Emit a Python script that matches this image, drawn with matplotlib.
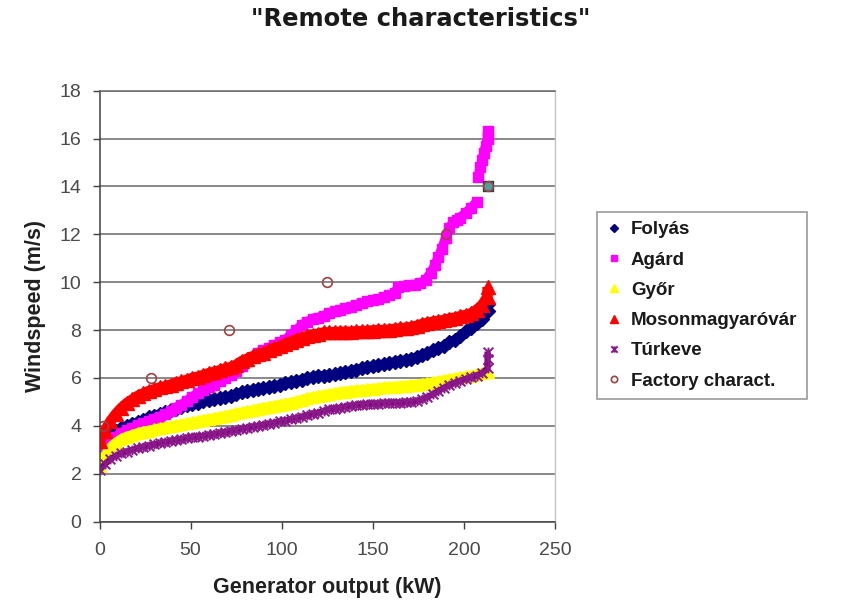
import matplotlib
matplotlib.use("Agg")
import matplotlib.pyplot as plt
from matplotlib.path import Path

plt.rcParams['font.family'] = ['Liberation Sans', 'DejaVu Sans']

# Generator output (kW) sample positions shared by most stations
grid_kw = [0, 3, 6, 9, 12, 15, 18, 21, 24, 27, 30, 33, 36, 39, 42, 45, 48, 51,
           54, 57, 60, 63, 66, 69, 72, 75, 78, 81, 84, 87, 90, 93, 96, 99, 102,
           105, 108, 111, 114, 117, 120, 123, 126, 129, 132, 135, 138, 141, 144,
           147, 150, 153, 156, 159, 162, 165, 168, 171, 174, 177, 180, 183, 186,
           189, 192, 195, 198, 201, 204, 207, 210, 213]

folyas_kw = grid_kw + [213]
folyas_ws = [3.0, 3.35, 3.6, 3.78, 3.9, 4.0, 4.08, 4.15, 4.25, 4.35,
             4.42, 4.5, 4.57, 4.65, 4.72, 4.78, 4.85, 4.92, 4.97, 5.02,
             5.06, 5.1, 5.15, 5.2, 5.25, 5.32, 5.4, 5.45, 5.5, 5.55,
             5.58, 5.62, 5.67, 5.72, 5.78, 5.83, 5.88, 5.93, 6.0, 6.05,
             6.08, 6.1, 6.12, 6.15, 6.2, 6.25, 6.3, 6.35, 6.4, 6.45,
             6.5, 6.54, 6.58, 6.62, 6.68, 6.72, 6.75, 6.8, 6.88, 6.95,
             7.05, 7.15, 7.25, 7.35, 7.5, 7.6, 7.75, 7.95, 8.1, 8.3,
             8.45, 8.8, 9.1]

agard_kw = [0, 3, 6, 9, 12, 15, 18, 21, 24, 27, 30, 33, 36, 39, 42, 45, 48, 51,
            54, 57, 60, 63, 66, 69, 72, 75, 78, 81, 84, 87, 90, 93, 96, 99, 102,
            105, 108, 111, 114, 117, 120, 123, 126, 129, 132, 135, 138, 141, 144,
            147, 150, 153, 156, 159, 162, 164, 167, 170, 173, 176, 179, 182, 184,
            186, 188, 190, 192, 194, 196, 198, 201, 204, 207, 208, 209, 210, 211,
            212, 213, 213]
agard_ws = [2.6, 3.05, 3.35, 3.55, 3.7, 3.82, 3.92, 4.02, 4.1, 4.2,
            4.3, 4.38, 4.48, 4.6, 4.75, 4.88, 5.05, 5.22, 5.35, 5.48,
            5.6, 5.72, 5.85, 5.98, 6.12, 6.3, 6.5, 6.7, 6.88, 7.02,
            7.15, 7.25, 7.38, 7.48, 7.6, 7.8, 8.0, 8.2, 8.35, 8.45,
            8.52, 8.6, 8.7, 8.78, 8.85, 8.9, 8.98, 9.05, 9.12, 9.2,
            9.25, 9.3, 9.38, 9.45, 9.55, 9.8, 9.85, 9.88, 9.9, 9.95,
            10.1, 10.4, 10.7, 11.05, 11.4, 11.85, 12.25, 12.5, 12.6, 12.7,
            12.9, 13.1, 13.35, 14.4, 14.8, 15.1, 15.4, 15.7, 16.0, 16.3]
# the top run of Agárd readings is separate from the rest of the band
agard_split = 73

gyor_kw = grid_kw
gyor_ws = [2.3, 2.75, 3.1, 3.3, 3.45, 3.55, 3.62, 3.7, 3.76, 3.8,
           3.85, 3.9, 3.94, 3.98, 4.02, 4.06, 4.1, 4.15, 4.19, 4.24,
           4.28, 4.32, 4.37, 4.42, 4.47, 4.52, 4.56, 4.6, 4.65, 4.7,
           4.75, 4.79, 4.84, 4.88, 4.92, 4.97, 5.02, 5.08, 5.15, 5.2,
           5.25, 5.28, 5.32, 5.36, 5.4, 5.43, 5.46, 5.48, 5.5, 5.52,
           5.55, 5.57, 5.6, 5.62, 5.64, 5.66, 5.68, 5.7, 5.72, 5.75,
           5.78, 5.82, 5.86, 5.9, 5.94, 5.98, 6.02, 6.06, 6.1, 6.15,
           6.2, 6.25]

moson_kw = grid_kw + [213]
moson_ws = [3.35, 3.8, 4.2, 4.5, 4.75, 4.95, 5.1, 5.25, 5.35, 5.45,
            5.52, 5.6, 5.65, 5.72, 5.8, 5.85, 5.92, 6.0, 6.05, 6.12,
            6.2, 6.25, 6.32, 6.4, 6.45, 6.55, 6.7, 6.8, 6.9, 6.98,
            7.05, 7.15, 7.25, 7.32, 7.42, 7.52, 7.6, 7.68, 7.75, 7.8,
            7.85, 7.9, 7.9, 7.92, 7.92, 7.93, 7.93, 7.95, 7.95, 7.97,
            7.98, 8.0, 8.0, 8.02, 8.05, 8.07, 8.1, 8.12, 8.18, 8.25,
            8.3, 8.35, 8.38, 8.42, 8.48, 8.52, 8.58, 8.63, 8.7, 8.85,
            9.05, 9.4, 9.8]

turkeve_kw = grid_kw + [213, 213]
turkeve_ws = [2.15, 2.4, 2.6, 2.75, 2.85, 2.92, 3.0, 3.06, 3.12, 3.17,
              3.22, 3.27, 3.31, 3.36, 3.4, 3.44, 3.48, 3.52, 3.55, 3.58,
              3.61, 3.65, 3.69, 3.73, 3.77, 3.82, 3.87, 3.92, 3.96, 4.0,
              4.04, 4.08, 4.13, 4.18, 4.22, 4.27, 4.32, 4.37, 4.43, 4.5,
              4.55, 4.62, 4.68, 4.72, 4.76, 4.8, 4.83, 4.86, 4.88, 4.9,
              4.92, 4.93, 4.94, 4.95, 4.96, 4.97, 4.98, 5.0, 5.03, 5.1,
              5.2, 5.32, 5.45, 5.58, 5.7, 5.8, 5.88, 5.95, 6.02, 6.1,
              6.2, 6.4, 6.8, 7.1]

factory_kw = [2, 28, 71, 125, 190, 213]
factory_ws = [4, 6, 8, 10, 12, 14]

rated_kw = [213]
rated_ws = [14]

x_ticks = [0, 50, 100, 150, 200, 250]
y_ticks = [0, 2, 4, 6, 8, 10, 12, 14, 16, 18]

# Excel-like "star" marker: an x crossed by a vertical stroke
star = Path([(-1, -1), (1, 1), (-1, 1), (1, -1), (0, -1), (0, 1)],
            [Path.MOVETO, Path.LINETO, Path.MOVETO, Path.LINETO,
             Path.MOVETO, Path.LINETO])

fig = plt.figure(figsize=(8.42, 6.0), dpi=100)
W, H = 842, 600
left, right, top, bottom = 99.5, 555, 90.7, 521.5
ax = fig.add_axes([left / W, (H - bottom) / H, (right - left) / W, (bottom - top) / H])

grid_col = '#6a6a6a'
ax.set_axisbelow(True)
ax.yaxis.grid(True, color=grid_col, linewidth=1.1)


def band(kw, ws, color, lw, z):
    """Dense run of readings: a thick stroke underneath the markers."""
    ax.plot(kw, ws, color=color, linewidth=lw, solid_capstyle='butt', zorder=z)


band(folyas_kw, folyas_ws, '#000080', 6.5, 2.0)
ax.plot(folyas_kw, folyas_ws, linestyle='none', marker='D', markersize=7,
        color='#000080', markeredgecolor='#000080', label='Folyás', zorder=2.05)

band(agard_kw[:agard_split], agard_ws[:agard_split], '#ff00ff', 7, 2.1)
band(agard_kw[agard_split:], agard_ws[agard_split:], '#ff00ff', 7, 2.1)
ax.plot(agard_kw, agard_ws, linestyle='none', marker='s', markersize=7,
        color='#ff00ff', markeredgecolor='#ff00ff', label='Agárd', zorder=2.15)

band(gyor_kw, gyor_ws, '#ffff00', 7, 2.2)
ax.plot(gyor_kw, gyor_ws, linestyle='none', marker='^', markersize=9,
        color='#ffff00', markeredgecolor='#ffff00', label='Győr', zorder=2.25)

band(moson_kw, moson_ws, '#ff0000', 7.5, 2.3)
ax.plot(moson_kw, moson_ws, linestyle='none', marker='^', markersize=9.5,
        color='#ff0000', markeredgecolor='#ff0000', label='Mosonmagyaróvár', zorder=2.35)

band(turkeve_kw, turkeve_ws, '#800080', 4.5, 2.4)
ax.plot(turkeve_kw, turkeve_ws, linestyle='none', marker=star, markersize=7,
        markerfacecolor='none', markeredgecolor='#8a1a8a', markeredgewidth=1.4,
        label='Túrkeve', zorder=2.45)

ax.plot(rated_kw, rated_ws, linestyle='none', marker='s', markersize=7,
        markerfacecolor='#4f9f9f', markeredgecolor='#1f3f3f', markeredgewidth=1.0,
        zorder=2.5)
ax.plot(factory_kw, factory_ws, linestyle='none', marker='o', markersize=7,
        markerfacecolor='none', markeredgecolor='#a04040', markeredgewidth=1.2,
        label='Factory charact.', zorder=2.55)

ax.set_xlim(0, 250)
ax.set_ylim(0, 18)
ax.set_xticks(x_ticks)
ax.set_yticks(y_ticks)

tick_col = '#4a4a4a'
ax.tick_params(axis='both', direction='out', length=5, width=1.0, color='#404040',
               labelcolor=tick_col, labelsize=14)
ax.tick_params(axis='y', pad=8)
ax.tick_params(axis='x', pad=10)

for side in ('left', 'bottom'):
    ax.spines[side].set_color('#404040')
    ax.spines[side].set_linewidth(1.1)
ax.spines['top'].set_color(grid_col)
ax.spines['top'].set_linewidth(1.1)
ax.spines['right'].set_color('#c4c4c4')
ax.spines['right'].set_linewidth(1.0)

ax.set_xlabel('Generator output (kW)', fontsize=15.5, fontweight='bold',
              color='#202020', labelpad=13)
ax.set_ylabel('Windspeed (m/s)', fontsize=15.5, fontweight='bold',
              color='#202020', labelpad=10)

fig.text(0.5, 1 - 26 / H, '"Remote characteristics"', ha='center', va='baseline',
         fontsize=17.5, fontweight='bold', family=['DejaVu Sans'], color='#1a1a1a')

leg = fig.legend(loc='upper left', bbox_to_anchor=(597 / W, 1 - 212 / H),
                 frameon=True, fancybox=False, edgecolor='#808080',
                 prop={'weight': 'bold', 'size': 13.5},
                 markerscale=0.65, handlelength=0.8, handletextpad=0.5,
                 labelspacing=0.7, borderpad=0.5, borderaxespad=0)
leg.get_frame().set_linewidth(1.2)
for t in leg.get_texts():
    t.set_color('#1a1a1a')

fig.savefig('out.png', dpi=100, facecolor='white')
